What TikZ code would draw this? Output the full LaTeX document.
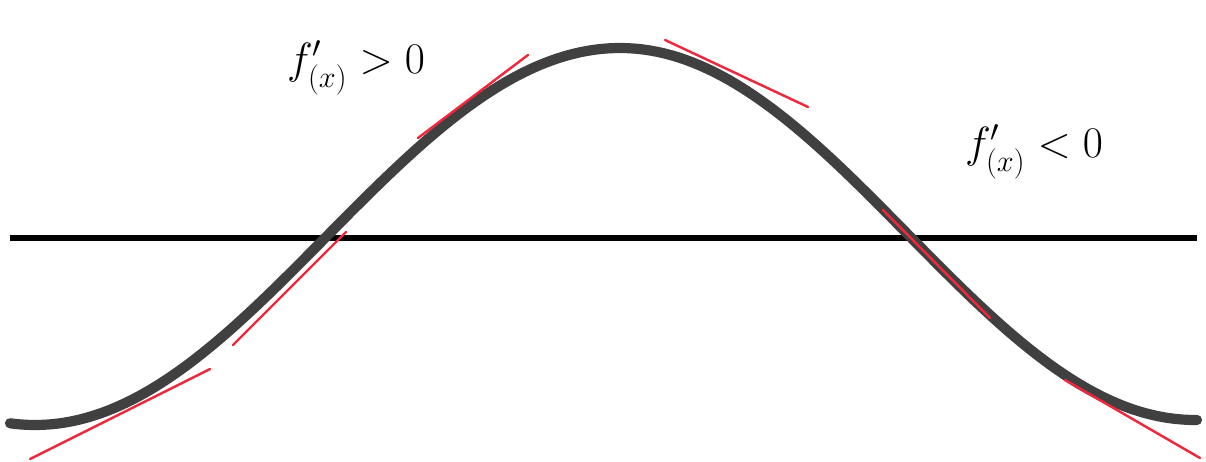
\documentclass[tikz,border=0pt]{standalone}
\usepackage{amsmath,amssymb}
\usepackage{xcolor}
\usepackage{tikz}
\usetikzlibrary{positioning}

\definecolor{curvegray}{HTML}{404040}
\definecolor{tanred}{HTML}{F0283C}

\begin{document}
\begin{tikzpicture}[
  x=0.02cm,y=-0.02cm,
  curve/.style={line width=5.8pt,curvegray,line cap=round,line join=round},
  axis/.style={line width=3.8pt,black},
  tangent/.style={line width=1.4pt,tanred,line cap=round},
  every node/.style={font=\fontsize{26}{30}\selectfont}
]
  \useasboundingbox (0,0) rectangle (1206,462);

  \draw[axis] (10,238) -- (1197,238);

  \draw[curve]
    plot[domain=10:325,samples=60] (\x,{238+187*sin(0.3103*(325-\x))})
    -- plot[domain=325:620,samples=60] (\x,{238-190*sin(0.30508*(\x-325))})
    -- plot[domain=620:1197,samples=80] (\x,{234-186*cos(0.31304*(\x-620))});

  % tangents
  \foreach \xa/\ya/\xb/\yb in {30/459/210/369,233/345/346/232,418/138/528/55,
      665/40/808/107,883/210/990/318,1065/380/1200/458}
    \draw[tangent] (\xa,\ya) -- (\xb,\yb);

  \node (pos) at (356,68) {$f'_{(x)} > 0$};
  \node (neg) at (1034,152) {$f'_{(x)} < 0$};
\end{tikzpicture}
\end{document}
